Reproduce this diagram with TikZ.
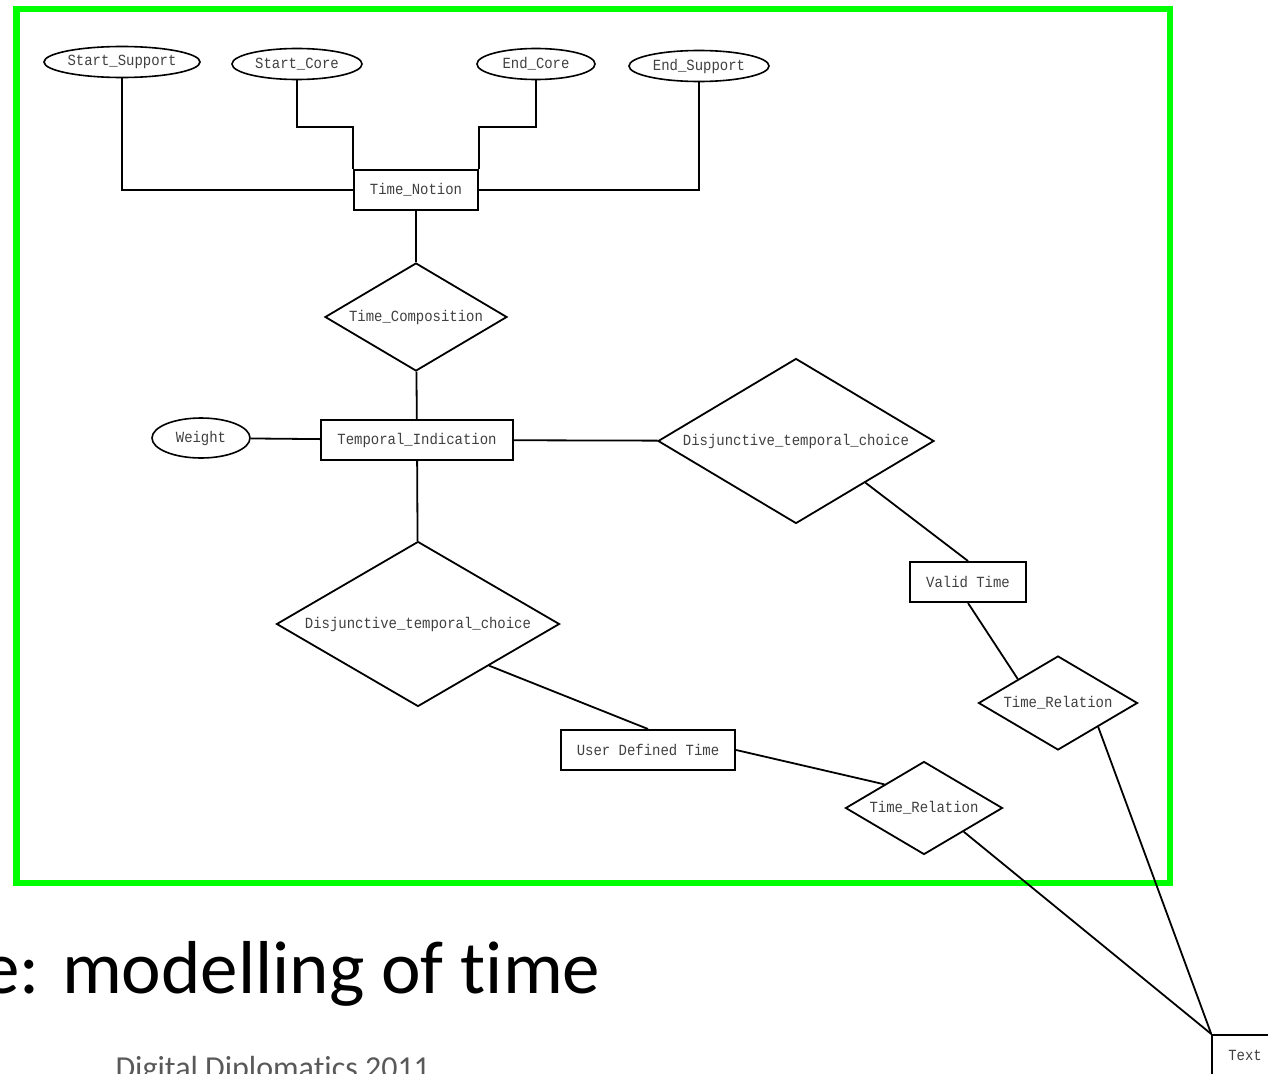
\documentclass[tikz,border=0pt]{standalone}
\usepackage{fontspec}
\setmainfont{Carlito}[Ligatures=NoCommon]
\newfontfamily\ermono{Liberation Mono}[FakeStretch=0.9]
\usetikzlibrary{shapes.geometric}
\definecolor{framegreen}{RGB}{0,255,0}
\definecolor{erink}{RGB}{64,64,64}

\begin{document}
\begin{tikzpicture}[
      x=1pt, y=-1pt,
      every node/.style={font=\ermono\fontsize{15.5}{17}\selectfont, text=erink},
      entity/.style={rectangle, draw, line width=2pt, inner xsep=16pt, inner ysep=0pt, minimum height=40pt},
      attr/.style={ellipse, draw, line width=1.6pt, inner sep=0pt, minimum height=31pt},
      rel/.style={diamond, draw, line width=1.8pt, inner sep=0pt, aspect=1.7},
      conn/.style={draw, line width=1.8pt}
      ]
  \useasboundingbox (0,0) rectangle (1268,1073);
  \draw[framegreen, line width=6.5pt] (16.5,9) rectangle (1170,883);

  % attributes of the time notion
  \node[attr, minimum width=156pt] (ss) at (122,62) {Start\_Support};
  \node[attr, minimum width=130pt] (sc) at (297,64) {Start\_Core};
  \node[attr, minimum width=118pt] (ec) at (536,64) {End\_Core};
  \node[attr, minimum width=140pt] (es) at (699,66) {End\_Support};
  \node[entity] (tn) at (416,190) {Time\_Notion};

  \node[rel, minimum width=182pt, minimum height=108pt] (tc) at (416,317) {Time\_Composition};
  \node[entity] (ti) at (417,440) {Temporal\_Indication};
  \node[attr, minimum width=98pt, minimum height=40pt] (wt) at (201,438) {Weight};

  % the two choices
  \node[rel, minimum width=276pt, minimum height=165pt] (dc1) at (796,441) {Disjunctive\_temporal\_choice};
  \node[rel, minimum width=283pt, minimum height=165pt] (dc2) at (418,624) {Disjunctive\_temporal\_choice};
  \node[entity] (vt) at (968,582) {Valid Time};
  \node[rel, minimum width=159pt, minimum height=94pt] (tr1) at (1058,703) {Time\_Relation};
  \node[entity] (udt) at (648,750) {User Defined Time};
  \node[rel, minimum width=157pt, minimum height=93pt] (tr2) at (924,808) {Time\_Relation};
  \node[entity] (tx) at (1245,1055) {Text};

  \node[font=\fontsize{75}{80}\selectfont, text=black, anchor=base east] (title) at (604,993) {e: modelling of time};
  \node[font=\fontsize{32}{36}\selectfont, text=black!65, anchor=base west] (foot) at (112,1078) {Digital Diplomatics 2011};

  \draw[conn] (ss.south) |- (tn.west);
  \draw[conn] (sc.south) -- ++(0,47) -| (tn.north west);
  \draw[conn] (ec.south) -- ++(0,47) -| (tn.north east);
  \draw[conn] (es.south) |- (tn.east);
  \draw[conn] (tn) -- (tc);
  \draw[conn] (tc) -- (ti);
  \draw[conn] (wt) -- (ti);
  \draw[conn] (ti) -- (dc1);
  \draw[conn] (ti) -- (dc2);
  \draw[conn] (dc1.south east) -- (vt.north);
  \draw[conn] (vt.south) -- (tr1.north west);
  \draw[conn] (tr1.south east) -- (tx.north west);
  \draw[conn] (dc2.south east) -- (udt.north);
  \draw[conn] (udt.east) -- (tr2.north west);
  \draw[conn] (tr2.south east) -- (tx.north west);
\end{tikzpicture}
\end{document}
